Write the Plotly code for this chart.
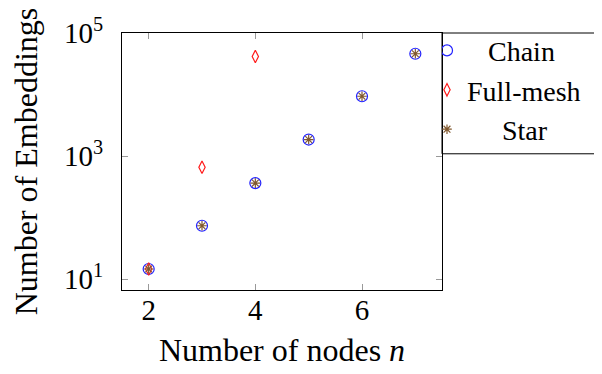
import plotly.graph_objects as go

nodes = [2, 3, 4, 5, 6, 7]
chain = [14.7, 74, 365, 1860, 9400, 46000]
mesh_nodes = [2, 3, 4]
full_mesh = [14.7, 660, 41500]
star = [14.7, 74, 365, 1860, 9400, 46000]

ytick_vals = [10, 1000, 100000]
ytick_text = ["10<sup>1</sup>", "10<sup>3</sup>", "10<sup>5</sup>"]
xtick_vals = [2, 4, 6]

FONT = "Liberation Serif"
NB = "\u00a0"

fig = go.Figure()
fig.add_trace(go.Scatter(x=nodes, y=chain, mode="markers", name=NB * 3 + "Chain",
                         marker=dict(symbol="circle-open", size=11, color="#2222ff",
                                     line=dict(width=1.2, color="#2222ff"))))
fig.add_trace(go.Scatter(x=mesh_nodes, y=full_mesh, mode="markers", name="Full-mesh",
                         marker=dict(symbol="diamond-tall-open", size=9, color="#ff1a1a",
                                     line=dict(width=1.2, color="#ff1a1a"))))
fig.add_trace(go.Scatter(x=nodes, y=star, mode="markers", name=NB * 5 + "Star",
                         marker=dict(symbol="asterisk-open", size=8, color="#80582e",
                                     line=dict(width=1.2, color="#80582e"))))

axis_common = dict(showgrid=False, zeroline=False, showline=True, linecolor="black",
                   linewidth=1, mirror="ticks", ticks="inside", ticklen=6,
                   tickcolor="#999999", tickwidth=1, automargin=False,
                   tickfont=dict(family=FONT, size=29, color="black"))

fig.update_xaxes(range=[1.5, 7.5], tickvals=xtick_vals,
                 title=dict(text="Number of nodes <i>n</i>", font=dict(family=FONT, size=32, color="black"),
                            standoff=13),
                 ticklabelstandoff=-6, **axis_common)
fig.update_yaxes(type="log", range=[0.826, 5], tickvals=ytick_vals, ticktext=ytick_text,
                 title=dict(text="Number of Embeddings", font=dict(family=FONT, size=32, color="black"),
                            standoff=16),
                 ticklabelstandoff=12, **axis_common)

# legend frame (extends past the right edge, as in the reference)
fig.add_shape(type="rect", xref="paper", yref="paper", x0=1, x1=1.7, y0=0.530, y1=1.0,
              line=dict(color="black", width=1), fillcolor="rgba(0,0,0,0)", layer="above")

fig.update_layout(
    width=594, height=366,
    margin=dict(l=114, r=160, t=25, b=84, autoexpand=False),
    plot_bgcolor="white", paper_bgcolor="white",
    font=dict(family=FONT, color="black"),
    legend=dict(x=1.0, xanchor="left", y=1.0285, yanchor="top",
                borderwidth=0, bgcolor="rgba(0,0,0,0)",
                font=dict(family=FONT, size=28, color="black"),
                itemwidth=30, indentation=-15, tracegroupgap=0),
)

fig.write_html("out.html")
